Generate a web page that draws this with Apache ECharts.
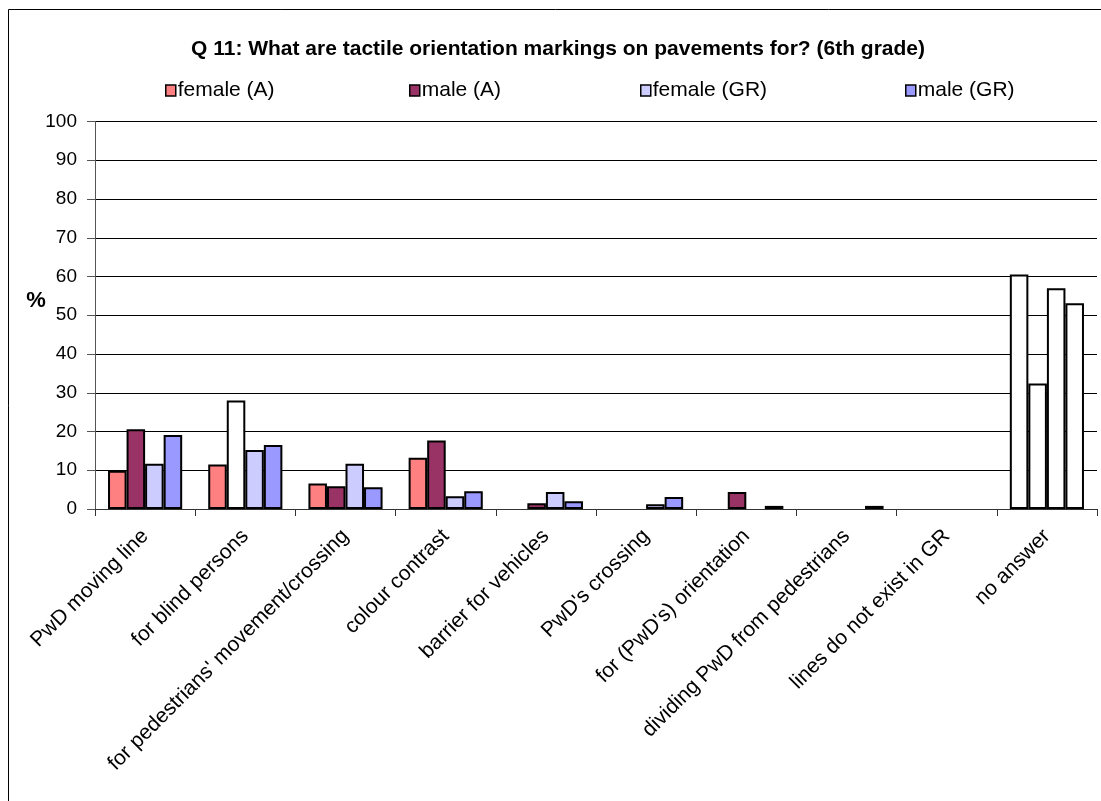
<!DOCTYPE html>
<html>
<head>
<meta charset="utf-8">
<script src="https://cdn.jsdelivr.net/npm/echarts@6/dist/echarts.min.js"></script>
<style>
  html, body { margin: 0; padding: 0; background: #fff; }
  #chart { width: 1101px; height: 801px; }
</style>
</head>
<body>
<div id="chart"></div>
<script>
// Answers to Q 11, share of pupils in percent
const categories = [
  "PwD moving line",
  "for blind persons",
  "for pedestrians' movement/crossing",
  "colour contrast",
  "barrier for vehicles",
  "PwD's crossing",
  "for (PwD's) orientation",
  "dividing PwD from pedestrians",
  "lines do not exist in GR",
  "no answer"
];
const femaleA  = [9.9, 11.5, 6.6, 13.2, 0,   0,   0,   0,   0, 60.5];
const maleA    = [20.6, 28.0, 5.9, 17.7, 1.5, 0,   4.4, 0,   0, 32.4];
const femaleGR = [11.7, 15.2, 11.7, 3.3, 4.4, 1.2, 0,   0,   0, 57.0];
const maleGR   = [19.1, 16.5, 5.6, 4.6, 2.0, 3.1, 0.8, 0.8, 0, 53.1];
const yTicks = [0, 10, 20, 30, 40, 50, 60, 70, 80, 90, 100];

// bars drawn without fill (category index per series)
const hollow = {
  femaleA: [9],
  maleA: [1, 9],
  femaleGR: [9],
  maleGR: [9]
};

const FONT = "Liberation Sans, Arial, sans-serif";

function barSeries(name, values, color, hollowIdx) {
  return {
    name: name,
    type: 'bar',
    barGap: '0%',
    barCategoryGap: '26%',
    itemStyle: { color: color, borderColor: '#000', borderWidth: 2 },
    data: values.map((v, i) => {
      if (v === 0) return { value: v, itemStyle: { borderWidth: 0 } };
      if (hollowIdx.indexOf(i) >= 0) return { value: v, itemStyle: { color: '#fff' } };
      return v;
    })
  };
}

function legendAt(name, left) {
  return {
    data: [name],
    left: left,
    top: 80,
    icon: 'rect',
    itemWidth: 10,
    itemHeight: 11,
    itemGap: 0,
    padding: 0,
    textStyle: { fontFamily: FONT, fontSize: 21, color: '#000', padding: [0, 0, 0, -3] },
    itemStyle: { borderColor: '#000', borderWidth: 1.5 }
  };
}

const chart = echarts.init(document.getElementById('chart'), null, { renderer: 'canvas' });
chart.setOption({
  backgroundColor: '#fff',
  animation: false,
  title: {
    text: 'Q 11: What are tactile orientation markings on pavements for? (6th grade)',
    left: 553,
    textAlign: 'center',
    top: 34,
    textStyle: { fontFamily: FONT, fontSize: 21, fontWeight: 'bold', color: '#000' }
  },
  legend: [
    legendAt('female (A)', 165),
    legendAt('male (A)', 409),
    legendAt('female (GR)', 640),
    legendAt('male (GR)', 905)
  ],
  grid: { left: 95, right: 4, top: 121.5, bottom: 292, containLabel: false },
  xAxis: {
    type: 'category',
    data: categories,
    boundaryGap: true,
    axisLine: { lineStyle: { color: '#333', width: 1 } },
    axisTick: { show: true, length: 7, lineStyle: { color: '#333' } },
    axisLabel: {
      rotate: 45,
      interval: 0,
      margin: 24,
      fontFamily: FONT,
      fontSize: 21,
      color: '#000'
    }
  },
  yAxis: {
    type: 'value',
    min: yTicks[0],
    max: yTicks[yTicks.length - 1],
    interval: yTicks[1] - yTicks[0],
    axisLine: { show: true, lineStyle: { color: '#555', width: 1 } },
    axisTick: { show: true, inside: false, length: 8, lineStyle: { color: '#555' } },
    axisLabel: { fontFamily: FONT, fontSize: 19, color: '#000', margin: 18 },
    splitLine: { show: true, lineStyle: { color: '#000', width: 1 } }
  },
  graphic: [
    {
      type: 'rect',
      shape: { x: 8.5, y: 9.5, width: 1200, height: 1000 },
      style: { fill: 'none', stroke: '#000', lineWidth: 1 },
      silent: true,
      z: -1
    },
    {
      type: 'text',
      x: 36,
      y: 301,
      style: {
        text: '%', fontFamily: FONT, fontSize: 22, fontWeight: 'bold', fill: '#000',
        align: 'center', verticalAlign: 'middle'
      }
    }
  ],
  series: [
    barSeries('female (A)', femaleA, '#FF8080', hollow.femaleA),
    barSeries('male (A)', maleA, '#993366', hollow.maleA),
    barSeries('female (GR)', femaleGR, '#CCCCFF', hollow.femaleGR),
    barSeries('male (GR)', maleGR, '#9999FF', hollow.maleGR)
  ]
});
</script>
</body>
</html>
